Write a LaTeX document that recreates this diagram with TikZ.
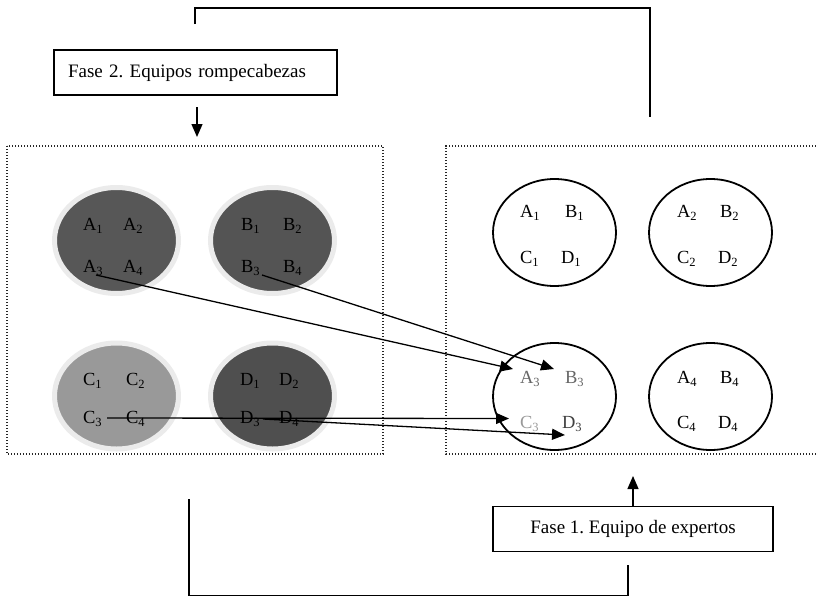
\documentclass[tikz,border=0pt]{standalone}
\usepackage{fontspec}
\setmainfont{Liberation Serif}
\usetikzlibrary{arrows.meta,shapes.geometric}

% a member label: letter with a lowered index
\newcommand{\mem}[2]{#1\raisebox{-3pt}{\fontsize{12.5}{12.5}\selectfont #2}}

\begin{document}
\frenchspacing
\begin{tikzpicture}[x=1pt,y=-1pt,
  every node/.style={inner sep=0pt, outer sep=0pt},
  phasebox/.style={draw, line width=1.3pt, minimum height=45pt, font=\fontsize{19}{19}\selectfont},
  frame/.style={draw=black!85, line width=1.2pt, dash pattern=on 1.2pt off 1.8pt},
  homegroup/.style={ellipse, draw=black!8, line width=5pt, minimum width=124pt, minimum height=106pt},
  expertgroup/.style={ellipse, draw, line width=1.8pt, minimum width=123pt, minimum height=107pt},
  member/.style={anchor=base west, font=\fontsize{18.5}{18.5}\selectfont},
  link/.style={line width=1.3pt},
  arr/.style={link, -{Triangle[length=13pt,width=11pt]}}
]
\useasboundingbox (0,0) rectangle (816,597);

% phase labels
\node[phasebox, minimum width=283pt, text width=255pt, align=left, inner xsep=14pt] (fase2) at (195.5,72.5) {Fase 2. Equipos rompecabezas};
\node[phasebox, minimum width=280pt] (fase1) at (633,529) {Fase 1. Equipo de expertos};

% dotted frames
\draw[frame] (7,146) rectangle (383,454);
\draw[frame] (816,146) -- (446,146) -- (446,454) -- (816,454);

% jigsaw (home) groups
\node[homegroup, fill=black!66] (gA) at (116.5,240.5) {};
\node[homegroup, fill=black!67] (gB) at (272.5,240.5) {};
\node[homegroup, fill=black!40] (gC) at (116.5,396) {};
\node[homegroup, fill=black!69] (gD) at (272.5,396) {};

\node[member] (hA1) at (83,230) {\mem{A}{1}};
\node[member] (hA2) at (123,230) {\mem{A}{2}};
\node[member] (hA3) at (83,272) {\mem{A}{3}};
\node[member] (hA4) at (123,272) {\mem{A}{4}};
\node[member] (hB1) at (241,230) {\mem{B}{1}};
\node[member] (hB2) at (283,230) {\mem{B}{2}};
\node[member] (hB3) at (241,272) {\mem{B}{3}};
\node[member] (hB4) at (283,272) {\mem{B}{4}};
\node[member] (hC1) at (83,385) {\mem{C}{1}};
\node[member] (hC2) at (126,385) {\mem{C}{2}};
\node[member] (hC3) at (83,423) {\mem{C}{3}};
\node[member] (hC4) at (126,423) {\mem{C}{4}};
\node[member] (hD1) at (240,385) {\mem{D}{1}};
\node[member] (hD2) at (279,385) {\mem{D}{2}};
\node[member] (hD3) at (240,423) {\mem{D}{3}};
\node[member] (hD4) at (279,423) {\mem{D}{4}};

% expert groups
\node[expertgroup] (e1) at (554.5,232.5) {};
\node[expertgroup] (e2) at (710.5,232.5) {};
\node[expertgroup] (e3) at (554.5,396.5) {};
\node[expertgroup] (e4) at (710.5,396.5) {};

\node[member] (xA1) at (520,217) {\mem{A}{1}};
\node[member] (xB1) at (565,217) {\mem{B}{1}};
\node[member] (xC1) at (520,263) {\mem{C}{1}};
\node[member] (xD1) at (561,263) {\mem{D}{1}};
\node[member] (xA2) at (677,217) {\mem{A}{2}};
\node[member] (xB2) at (720,217) {\mem{B}{2}};
\node[member] (xC2) at (677,263) {\mem{C}{2}};
\node[member] (xD2) at (718,263) {\mem{D}{2}};
\node[member, text=black!60] (xA3) at (520,383) {\mem{A}{3}};
\node[member, text=black!60] (xB3) at (565,383) {\mem{B}{3}};
\node[member, text=black!40] (xC3) at (520,428) {\mem{C}{3}};
\node[member, text=black!75] (xD3) at (562,428) {\mem{D}{3}};
\node[member] (xA4) at (677,383) {\mem{A}{4}};
\node[member] (xB4) at (720,383) {\mem{B}{4}};
\node[member] (xC4) at (677,428) {\mem{C}{4}};
\node[member] (xD4) at (718,428) {\mem{D}{4}};

% members moving to the expert group
\coordinate (sA) at (96,275);
\coordinate (sB) at (262,275);
\coordinate (sC) at (107,418);
\coordinate (sD) at (263,419);
\coordinate (tA) at (513,369);
\coordinate (tB) at (554,369);
\coordinate (tC) at (509,418.5);
\coordinate (tD) at (565,435);
\draw[arr] (sA) -- (tA);
\draw[arr] (sB) -- (tB);
\draw[arr] (sC) -- (tC);
\draw[arr] (sD) -- (tD);

% cycle between the two phases
\coordinate (topL) at (195,24);
\coordinate (topR) at (650,117);
\draw[link] (topL) -- (195,8) -| (topR);
\coordinate (f2out) at (197,107);
\coordinate (f2in) at (197,137);
\draw[arr] (f2out) -- (f2in);

\coordinate (botL) at (189,499);
\coordinate (botR) at (628,565);
\draw[link] (botL) -- (189,595.5) -| (botR);
\coordinate (f1in) at (633,476);
\draw[arr] (fase1.north -| f1in) -- (f1in);
\end{tikzpicture}
\end{document}
